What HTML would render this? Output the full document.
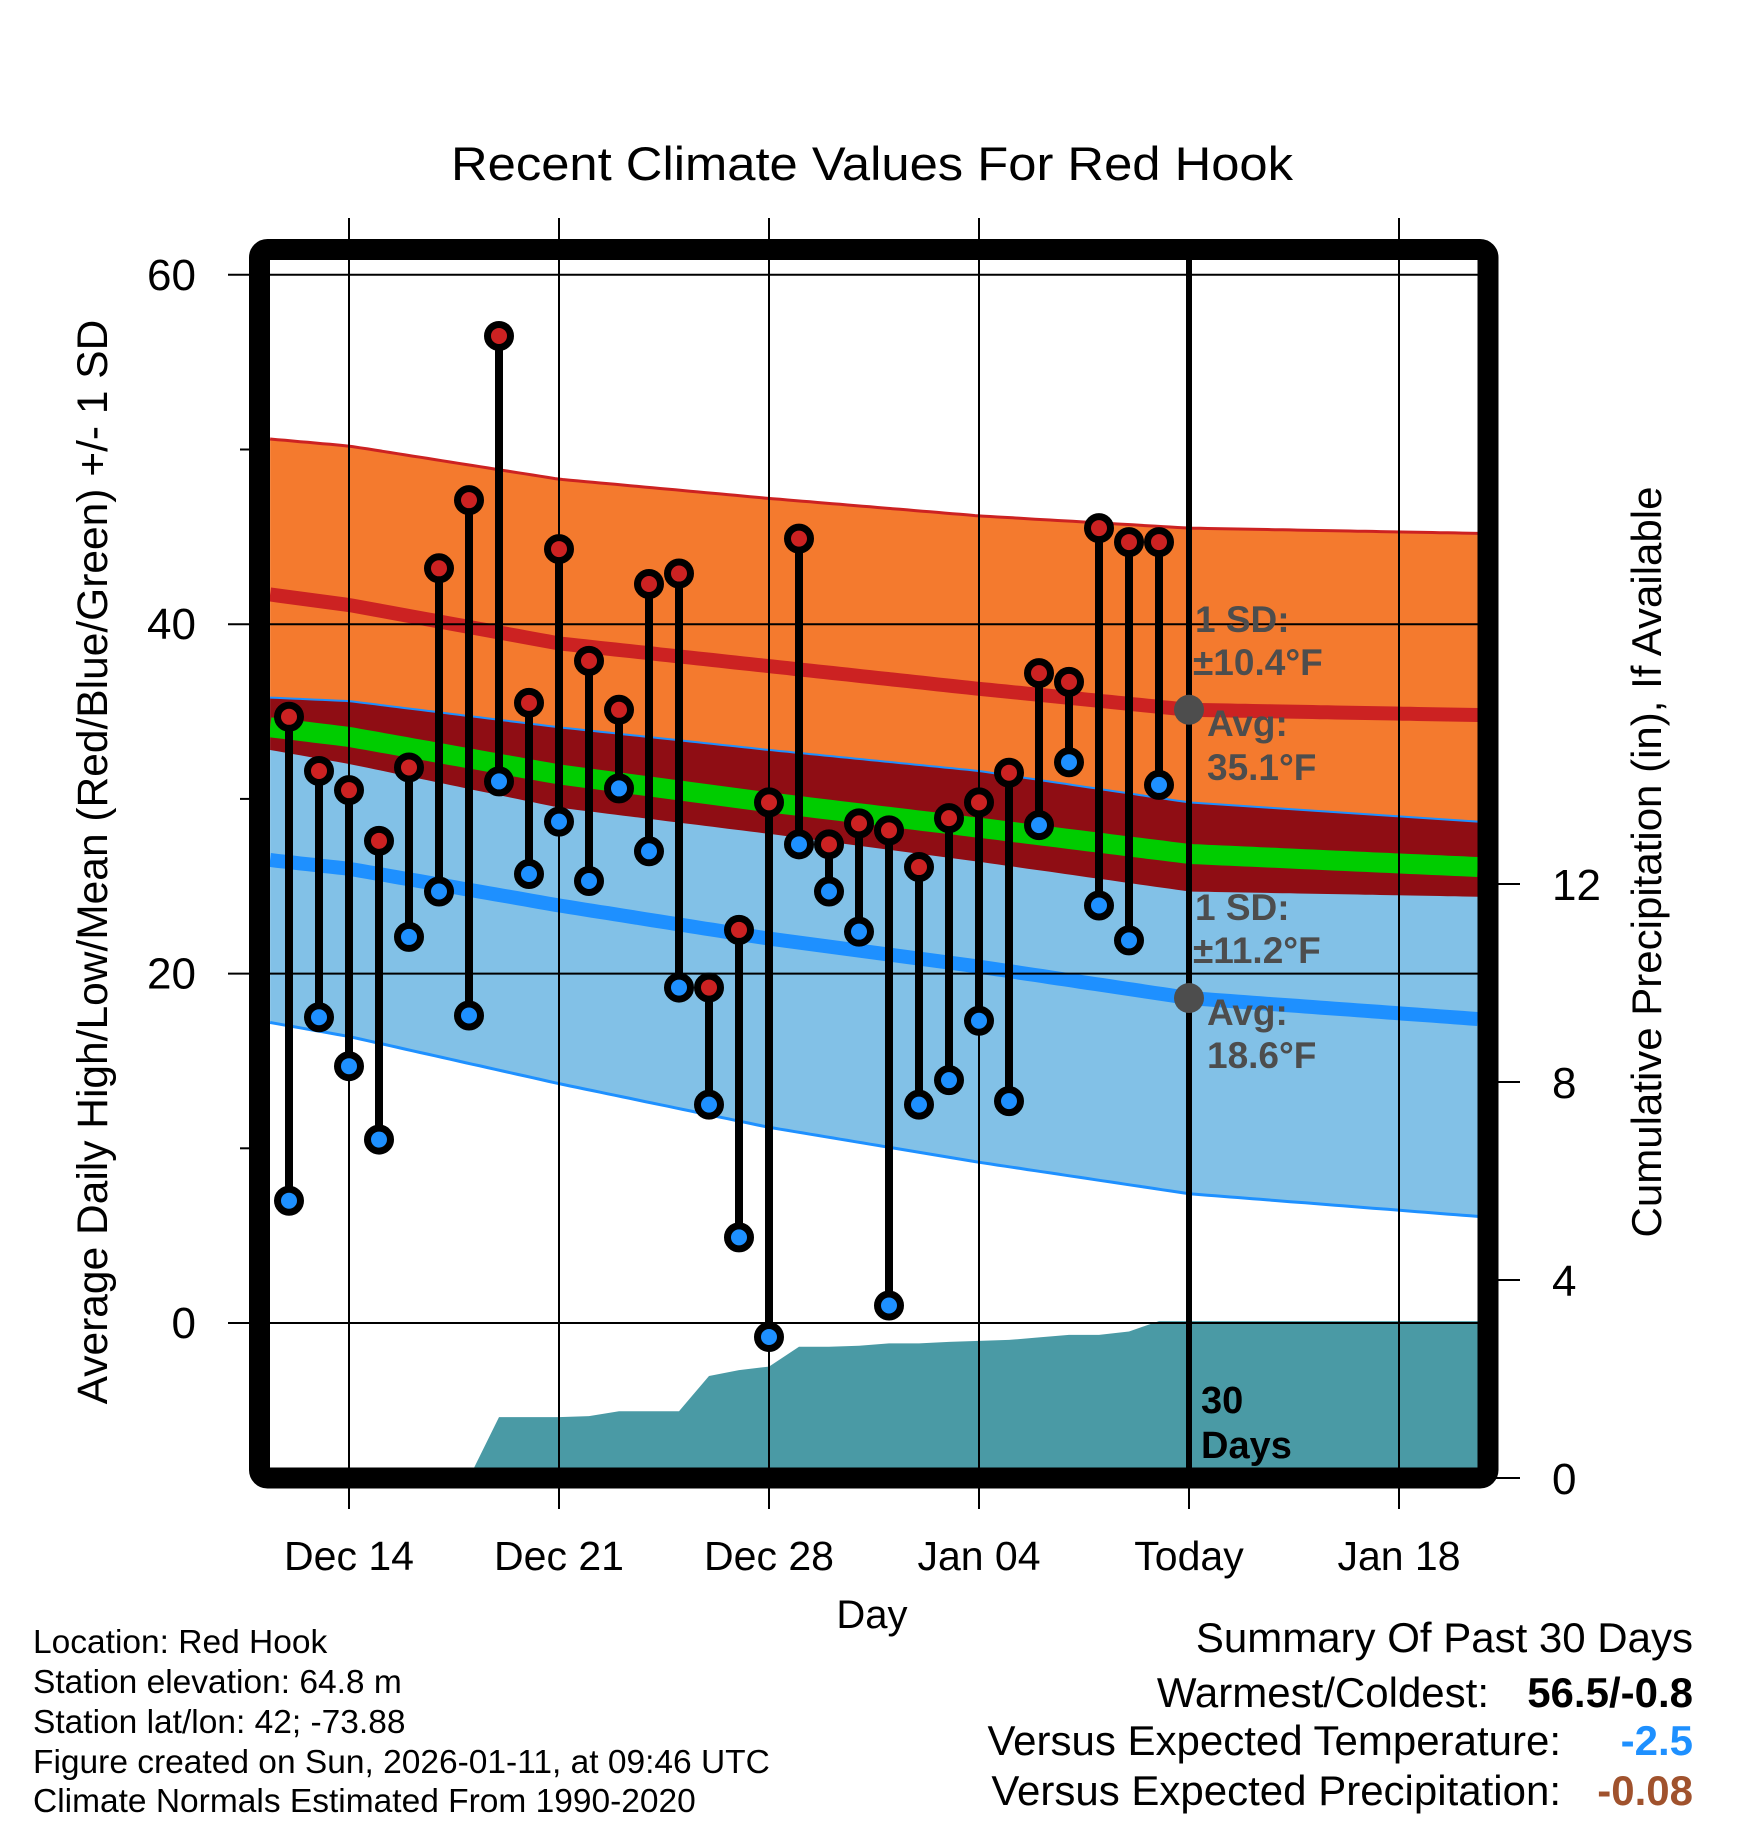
<!DOCTYPE html>
<html><head><meta charset="utf-8"><style>
html,body{margin:0;padding:0;background:#fff;}
svg{display:block;font-family:"Liberation Sans",Arial,sans-serif;}
</style></head><body>
<svg id="chart" width="1748" height="1828" viewBox="0 0 1748 1828" xmlns="http://www.w3.org/2000/svg">
<defs><clipPath id="plotclip"><rect x="270" y="260" width="1208" height="1208"/></clipPath></defs>
<rect width="1748" height="1828" fill="#fff"/>
<text x="872" y="180" font-size="47" text-anchor="middle" textLength="842" lengthAdjust="spacingAndGlyphs">Recent Climate Values For Red Hook</text>
<g id="plot" clip-path="url(#plotclip)"></g>
<g id="over"></g>
<rect x="259.5" y="249.5" width="1228.5" height="1228.5" rx="8" fill="none" stroke="#000" stroke-width="21"/>
<text x="872" y="1628" font-size="40" text-anchor="middle">Day</text>
<text transform="translate(107,862) rotate(-90)" font-size="42.5" text-anchor="middle">Average Daily High/Low/Mean (Red/Blue/Green) +/- 1 SD</text>
<text transform="translate(1661,862) rotate(-90)" font-size="42" text-anchor="middle">Cumulative Precipitation (in), If Available</text>
<g font-size="33.5">
<text x="33" y="1653">Location: Red Hook</text>
<text x="33" y="1693">Station elevation: 64.8 m</text>
<text x="33" y="1733">Station lat/lon: 42; -73.88</text>
<text x="33" y="1773">Figure created on Sun, 2026-01-11, at 09:46 UTC</text>
<text x="33" y="1812">Climate Normals Estimated From 1990-2020</text>
</g>
<g font-size="42">
<text x="1693" y="1652" text-anchor="end">Summary Of Past 30 Days</text>
<text x="1489" y="1707" text-anchor="end">Warmest/Coldest:</text>
<text x="1693" y="1707" text-anchor="end" font-weight="bold">56.5/-0.8</text>
<text x="1561" y="1755" text-anchor="end">Versus Expected Temperature:</text>
<text x="1693" y="1755" text-anchor="end" font-weight="bold" fill="#1e90ff">-2.5</text>
<text x="1561" y="1805" text-anchor="end">Versus Expected Precipitation:</text>
<text x="1693" y="1805" text-anchor="end" font-weight="bold" fill="#a0522d">-0.08</text>
</g>
</svg>
<script>
// normals control points (days from Dec 14)
const normDays = [-2.63, 0, 7, 14, 21, 28, 37.63];
const highMean = [41.7, 41.1, 38.9, 37.6, 36.3, 35.1, 34.8];
const highSD = [8.9, 9.1, 9.4, 9.6, 9.9, 10.4, 10.4];
const lowMean = [26.5, 26.0, 23.9, 22.0, 20.4, 18.6, 17.4];
const lowSD = [9.3, 9.6, 10.2, 10.8, 11.2, 11.2, 11.3];
// observations Dec 12 .. Jan 10
const obsDays = [-2,-1,0,1,2,3,4,5,6,7,8,9,10,11,12,13,14,15,16,17,18,19,20,21,22,23,24,25,26,27];
const highs = [34.7,31.6,30.5,27.6,31.8,43.2,47.1,56.5,35.5,44.3,37.9,35.1,42.3,42.9,19.2,22.5,29.8,44.9,27.4,28.6,28.2,26.1,28.9,29.8,31.5,37.2,36.7,45.5,44.7,44.7];
const lows = [7.0,17.5,14.7,10.5,22.1,24.7,17.6,31.0,25.7,28.7,25.3,30.6,27.0,19.2,12.5,4.9,-0.8,27.4,24.7,22.4,1.0,12.5,13.9,17.3,12.7,28.5,32.1,23.9,21.9,30.8];
const precip = [0,0,0,0,0,0,0,1.23,1.23,1.23,1.25,1.35,1.35,1.35,2.06,2.18,2.25,2.65,2.65,2.67,2.72,2.72,2.75,2.77,2.79,2.84,2.89,2.89,2.96,3.17];
const xTickDays = [0,7,14,21,28,35];
const xTickLabels = ["Dec 14","Dec 21","Dec 28","Jan 04","Today","Jan 18"];
const yTicks = [0,20,40,60];
const yTickLabels = ["0","20","40","60"];
const yMinor = [10,30,50];
const pTicks = [0,4,8,12];
const pTickLabels = ["0","4","8","12"];
const todayDay = 28;
const todayHigh = 35.1, todayHighSD = 10.4, todayLow = 18.6, todayLowSD = 11.2;

const NS = "http://www.w3.org/2000/svg";
const X = d => 349 + 30 * d;
const Y = t => 1323 - 17.47 * t;
const P = p => 1478 - 49.5 * p;
const L = 270, R = 1478, T = 260, B = 1468;
const plot = document.getElementById('plot');
const over = document.getElementById('over');
const svg = document.getElementById('chart');
function mk(tag, attrs, parent) {
  const e = document.createElementNS(NS, tag);
  for (const k in attrs) e.setAttribute(k, attrs[k]);
  (parent || svg).appendChild(e);
  return e;
}
function interp(arr, d) {
  for (let i = 0; i < normDays.length - 1; i++) {
    if (d <= normDays[i + 1] || i === normDays.length - 2) {
      const f = (d - normDays[i]) / (normDays[i + 1] - normDays[i]);
      return arr[i] + f * (arr[i + 1] - arr[i]);
    }
  }
}
const samples = [];
for (let d = normDays[0]; d <= normDays[normDays.length - 1] + 0.001; d += 0.25) samples.push(d);
function curve(fn) { return samples.map(d => [X(d), Y(fn(d))]); }
function pts(a) { return a.map(p => p[0].toFixed(1) + ',' + p[1].toFixed(1)).join(' '); }
const hU = curve(d => interp(highMean, d) + interp(highSD, d));
const hM = curve(d => interp(highMean, d));
const hL = curve(d => interp(highMean, d) - interp(highSD, d));
const lU = curve(d => interp(lowMean, d) + interp(lowSD, d));
const lM = curve(d => interp(lowMean, d));
const lL = curve(d => interp(lowMean, d) - interp(lowSD, d));
const mM = curve(d => (interp(highMean, d) + interp(lowMean, d)) / 2);

let e;
e = mk('polygon', {points: pts(hU.concat(hL.slice().reverse())), fill: '#f47a2e'}, plot);


e = mk('polygon', {points: pts(lU.concat(lL.slice().reverse())), fill: '#82c1e7'}, plot);


e = mk('polygon', {points: pts(lU.concat(hL.slice().reverse())), fill: '#8f0d14'}, plot);


e = mk('polyline', {points: pts(hU), fill: 'none', stroke: '#cc2222', 'stroke-width': 3}, plot);


e = mk('polyline', {points: pts(lU), fill: 'none', stroke: '#1e90ff', 'stroke-width': 2}, plot);


e = mk('polyline', {points: pts(lL), fill: 'none', stroke: '#1e90ff', 'stroke-width': 3}, plot);


e = mk('polyline', {points: pts(mM), fill: 'none', stroke: '#00cc00', 'stroke-width': 20}, plot);


e = mk('polyline', {points: pts(hM), fill: 'none', stroke: '#cc2222', 'stroke-width': 14}, plot);


e = mk('polyline', {points: pts(lM), fill: 'none', stroke: '#1e90ff', 'stroke-width': 14}, plot);



// precipitation area
const pp = [[L, P(precip[0])]];
obsDays.forEach((d, i) => pp.push([X(d), P(precip[i])]));
pp.push([R, P(precip[precip.length - 1])]);
pp.push([R, B]);
pp.push([L, B]);
e = mk('polygon', {points: pts(pp), fill: '#4a9aa5'}, plot);



// grid lines
xTickDays.forEach((d, i) => {
  const isToday = d === todayDay;
  const g = mk('line', {x1: X(d), x2: X(d), y1: isToday ? 1468 : 218, y2: 1509, stroke: '#000', 'stroke-width': 2}, over);
  
  
  if (isToday) {
    const tl = mk('line', {x1: X(d), x2: X(d), y1: 255, y2: 1470, stroke: '#000', 'stroke-width': 6}, over);
    
    
  }
  const t = mk('text', {x: X(d), y: 1570, 'font-size': 41, 'text-anchor': 'middle'});
  t.textContent = xTickLabels[i];
  
  
});
yTicks.forEach((v, i) => {
  const g = mk('line', {x1: 228, x2: R, y1: Y(v), y2: Y(v), stroke: '#000', 'stroke-width': 2}, over);
  
  
  const t = mk('text', {x: 196, y: Y(v) + 15, 'font-size': 44, 'text-anchor': 'end'});
  t.textContent = yTickLabels[i];
  
  
});
yMinor.forEach(v => {
  const g = mk('line', {x1: 240, x2: 252, y1: Y(v), y2: Y(v), stroke: '#000', 'stroke-width': 2});
  
  
});
pTicks.forEach((v, i) => {
  const g = mk('line', {x1: 1496, x2: 1520, y1: P(v), y2: P(v), stroke: '#000', 'stroke-width': 2});
  
  
  const t = mk('text', {x: 1552, y: P(v) + 16, 'font-size': 44});
  t.textContent = pTickLabels[i];
  
  
});

// observations
obsDays.forEach((d, i) => {
  const s = mk('line', {x1: X(d), x2: X(d), y1: Y(highs[i]), y2: Y(lows[i]), stroke: '#000', 'stroke-width': 8}, over);
  
  
});
obsDays.forEach((d, i) => {
  const h = mk('circle', {cx: X(d), cy: Y(highs[i]), r: 11.5, fill: '#cc2222', stroke: '#000', 'stroke-width': 7}, over);
  
  
  const l = mk('circle', {cx: X(d), cy: Y(lows[i]), r: 11.5, fill: '#1e90ff', stroke: '#000', 'stroke-width': 7}, over);
  
  
});

// today annotations
const tx = X(todayDay);
e = mk('circle', {cx: tx, cy: Y(todayHigh), r: 15, fill: '#4d4d4d'}, over);


e = mk('circle', {cx: tx, cy: Y(todayLow), r: 15, fill: '#4d4d4d'}, over);


function ann(txt, x, y, name) {
  const t = mk('text', {x: x, y: y, 'font-size': 37, 'font-weight': 'bold', fill: '#4d4d4d'}, over);
  t.textContent = txt;
  
  
}
ann('1 SD:', 1195, Y(todayHigh) - 78, 'high-sd-label');
ann('\u00b1' + todayHighSD.toFixed(1) + '\u00b0F', 1193, Y(todayHigh) - 35, 'high-sd-value');
ann('Avg:', 1207, Y(todayHigh) + 26, 'high-avg-label');
ann(todayHigh.toFixed(1) + '\u00b0F', 1207, Y(todayHigh) + 70, 'high-avg-value');
ann('1 SD:', 1195, Y(todayLow) - 78, 'low-sd-label');
ann('\u00b1' + todayLowSD.toFixed(1) + '\u00b0F', 1193, Y(todayLow) - 35, 'low-sd-value');
ann('Avg:', 1207, Y(todayLow) + 27, 'low-avg-label');
ann(todayLow.toFixed(1) + '\u00b0F', 1207, Y(todayLow) + 70, 'low-avg-value');
const t1 = mk('text', {x: 1201, y: 1413, 'font-size': 38, 'font-weight': 'bold'}, over);
t1.textContent = '30';


const t2 = mk('text', {x: 1201, y: 1458, 'font-size': 38, 'font-weight': 'bold'}, over);
t2.textContent = 'Days';


</script>
</body></html>
